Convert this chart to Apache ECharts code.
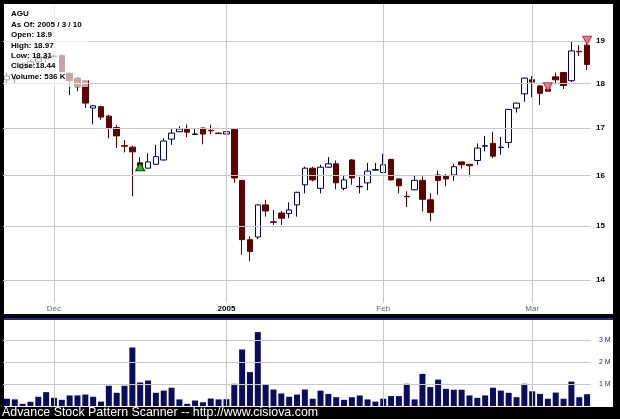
<!DOCTYPE html>
<html><head><meta charset="utf-8">
<script src="https://cdn.jsdelivr.net/npm/echarts@6/dist/echarts.min.js"></script>
<style>html,body{margin:0;padding:0;background:#000;}#c{width:620px;height:419px;}</style>
</head><body><div id="c"></div>
<script>
const dates = [
 '2004-11-22','2004-11-23','2004-11-24','2004-11-26','2004-11-29','2004-11-30',
 '2004-12-01','2004-12-02','2004-12-03','2004-12-06','2004-12-07','2004-12-08','2004-12-09','2004-12-10',
 '2004-12-13','2004-12-14','2004-12-15','2004-12-16','2004-12-17','2004-12-20','2004-12-21','2004-12-22',
 '2004-12-23','2004-12-27','2004-12-28','2004-12-29','2004-12-30','2004-12-31',
 '2005-01-03','2005-01-04','2005-01-05','2005-01-06','2005-01-07','2005-01-10','2005-01-11','2005-01-12',
 '2005-01-13','2005-01-14','2005-01-18','2005-01-19','2005-01-20','2005-01-21','2005-01-24','2005-01-25',
 '2005-01-26','2005-01-27','2005-01-28','2005-01-31',
 '2005-02-01','2005-02-02','2005-02-03','2005-02-04','2005-02-07','2005-02-08','2005-02-09','2005-02-10',
 '2005-02-11','2005-02-14','2005-02-15','2005-02-16','2005-02-17','2005-02-18','2005-02-22','2005-02-23',
 '2005-02-24','2005-02-25','2005-02-28',
 '2005-03-01','2005-03-02','2005-03-03','2005-03-04','2005-03-07','2005-03-08','2005-03-09','2005-03-10'
];
const opens = [18.08,18.10,18.35,18.40,18.50,18.58,18.64,18.65,18.23,18.12,
 18.06,17.44,17.47,17.26,17.01,16.62,16.59,16.26,16.15,16.23,
 16.32,16.76,16.92,16.97,16.86,17.00,16.95,16.89,16.87,16.97,
 15.90,14.74,14.79,15.41,15.08,15.25,15.24,15.41,15.81,16.15,
 15.74,16.17,16.24,15.74,16.32,15.77,15.85,16.11,16.06,16.33,
 15.93,15.58,15.71,15.90,15.51,16.01,15.98,16.01,16.28,16.23,
 16.31,16.61,16.67,16.58,16.69,17.44,17.76,18.08,17.94,17.87,
 18.15,18.25,18.06,18.75,18.90];
const closes = [18.17,18.12,18.45,18.50,18.58,18.64,18.63,18.27,18.06,17.92,
 17.55,17.49,17.24,17.00,16.83,16.61,16.49,16.20,16.28,16.39,
 16.72,16.89,16.98,16.91,16.87,16.87,16.94,16.88,16.92,15.95,
 14.74,14.52,15.41,15.29,15.07,15.15,15.31,15.66,16.15,15.91,
 16.17,16.24,15.85,15.91,15.95,15.78,16.09,16.12,16.22,15.91,
 15.79,15.57,15.90,15.52,15.26,15.90,15.93,16.18,16.22,16.20,
 16.57,16.62,16.40,16.59,17.41,17.55,18.12,18.03,17.77,17.82,
 18.08,17.95,18.76,18.74,18.44];
const lows = [17.98,17.98,18.32,18.35,18.45,18.50,18.60,18.26,17.73,17.82,
 17.44,17.08,17.18,16.78,16.57,16.48,15.58,16.12,16.15,16.22,
 16.31,16.64,16.92,16.80,16.85,16.65,16.87,16.87,16.74,15.85,
 14.46,14.34,14.75,15.18,15.02,15.02,15.15,15.18,15.64,15.88,
 15.64,16.16,15.72,15.70,15.81,15.64,15.70,16.10,16.05,15.90,
 15.64,15.37,15.70,15.28,15.09,15.61,15.78,15.89,16.14,15.98,
 16.22,16.50,16.36,16.43,16.57,17.34,17.58,17.68,17.51,17.80,
 17.98,17.87,18.03,18.64,18.31];
const highs = [18.25,18.17,18.50,18.55,18.62,18.68,18.67,18.68,18.25,18.15,
 18.07,17.51,17.49,17.29,17.07,16.74,16.62,16.38,16.46,16.64,
 16.78,16.98,17.04,17.08,16.98,17.01,17.07,16.90,16.94,17.00,
 15.91,14.80,15.42,15.51,15.31,15.29,15.46,15.67,16.18,16.18,
 16.22,16.38,16.31,15.99,16.34,15.97,16.26,16.26,16.45,16.35,
 15.94,15.68,15.99,15.98,15.64,16.10,16.03,16.24,16.29,16.24,
 16.67,16.83,16.92,16.81,17.42,17.56,18.13,18.17,17.96,17.94,
 18.25,18.26,18.99,18.90,18.97];
const volumesM = [0.33,0.30,0.10,0.19,0.42,0.63,0.37,0.28,0.48,0.48,
 0.52,0.42,0.20,0.92,0.60,0.92,2.66,1.07,1.16,0.60,
 0.70,0.83,0.30,0.10,0.25,0.17,0.34,0.30,0.31,1.01,
 2.57,1.54,3.36,0.98,0.75,0.57,0.42,0.52,0.75,0.33,
 0.70,0.55,0.40,0.28,0.40,0.48,0.30,0.20,0.33,0.45,
 0.45,1.01,0.30,1.46,0.86,1.20,0.78,0.74,0.74,0.48,
 0.37,0.48,0.83,0.70,0.60,0.40,1.01,0.67,0.55,0.33,
 0.61,0.33,1.11,0.40,0.536];
const priceTicks = [14,15,16,17,18,19];
const volumeTicks = [1,2,3];
const monthDates = ['2004-12-01','2005-01-03','2005-02-01','2005-03-01'];
const monthNames = ['Dec','2005','Feb','Mar'];
const signalDates = ['2004-12-16','2005-03-03','2005-03-10'];
const signalPrices = [16.18,17.92,19.02];
const signalDirs = ['up','down','down'];
const ticker = 'AGU';

const chart = echarts.init(document.getElementById('c'), null, {renderer:'canvas'});
const n = dates.length - 1;
const candleData = dates.map((d,i)=>[opens[i],closes[i],lows[i],highs[i]]);
const last = dates[n].split('-');
const infoLines = [
  ticker,
  'As Of: ' + (+last[0]) + ' / ' + (+last[1]) + ' / ' + (+last[2]),
  'Open: ' + opens[n],
  'High: ' + highs[n],
  'Low: ' + lows[n],
  'Close:' + closes[n],
  'Volume: ' + Math.round(volumesM[n]*1000) + ' K'
];
const grid = {color:'#c8c8c8', width:1, type:'solid'};
const vLines = monthDates.map(d=>({xAxis:d, label:{show:false}}));
const infoText = infoLines.map((t,k)=>({
  type:'text', x:11, y:14+10.45*k, z:101,
  style:{text:t, fill:'#000', font:'bold 8px "Liberation Sans", Arial, sans-serif', verticalAlign:'middle'}
}));
const option = {
  backgroundColor:'#000',
  animation:false,
  graphic:[
    {type:'rect', z:-10, shape:{x:4,y:4,width:609,height:310}, style:{fill:'#fff'}},
    {type:'rect', z:-10, shape:{x:4,y:318,width:609,height:2}, style:{fill:'#24248a'}},
    {type:'rect', z:-10, shape:{x:4,y:320,width:609,height:87}, style:{fill:'#fff'}},
    {type:'rect', z:100, shape:{x:4,y:4,width:84,height:83}, style:{fill:'rgba(255,255,255,0.65)'}},
    ...infoText,
    {type:'text', x:2, y:413, z:101, style:{text:'Advance Stock Pattern Scanner -- http://www.cisiova.com', fill:'#fff', font:'12.4px "Liberation Sans", Arial, sans-serif', verticalAlign:'middle'}}
  ],
  grid:[
    {left:3, right:29, top:4, height:299},
    {left:3, right:29, top:320, height:86}
  ],
  xAxis:[
    {type:'category', gridIndex:0, data:dates, boundaryGap:true,
     axisLine:{show:false}, axisTick:{show:false}, splitLine:{show:false},
     axisLabel:{margin:2, fontSize:8, color:'#666', fontFamily:'"Liberation Sans", Arial, sans-serif',
       interval:(i,v)=>monthDates.indexOf(v)>=0,
       formatter:(v)=>{const k=monthDates.indexOf(v); if(k<0) return ''; return monthNames[k]==='2005' ? '{y|2005}' : monthNames[k];},
       rich:{y:{fontSize:8, fontWeight:'bold', color:'#000', fontFamily:'"Liberation Sans", Arial, sans-serif'}}}},
    {type:'category', gridIndex:1, data:dates, boundaryGap:true,
     axisLine:{show:false}, axisTick:{show:false}, axisLabel:{show:false}, splitLine:{show:false}}
  ],
  yAxis:[
    {type:'log', logBase:10, gridIndex:0, min:13.594, max:19.92, position:'right',
     axisLine:{show:false}, axisTick:{show:false}, axisLabel:{show:false}, splitLine:{show:false}},
    {type:'value', gridIndex:1, min:0, max:3.909, position:'right',
     axisLine:{show:false}, axisTick:{show:false}, axisLabel:{show:false}, splitLine:{show:false}}
  ],
  series:[
    {type:'line', xAxisIndex:0, yAxisIndex:0, data:[], z:1, silent:true,
     markLine:{silent:true, symbol:['none','none'], lineStyle:grid, animation:false,
       data:[
         ...priceTicks.map(v=>({yAxis:v, label:{show:true, position:'end', distance:5, formatter:String(v), color:'#000', fontSize:8, fontWeight:'bold', fontFamily:'"Liberation Sans", Arial, sans-serif'}})),
         ...vLines
       ]}},
    {type:'candlestick', xAxisIndex:0, yAxisIndex:0, data:candleData, z:3, barWidth:6,
     itemStyle:{color:'#ffffff', color0:'#5c0000', borderColor:'#00004e', borderColor0:'#5c0000', borderWidth:1},
     markPoint:{animation:false, label:{show:false},
       data:signalDates.map((d,k)=>({coord:[d, signalPrices[k]], symbol:'triangle', symbolSize:[9,8],
         symbolRotate: signalDirs[k]==='up'?0:180,
         itemStyle: signalDirs[k]==='up' ? {color:'#2fb52f', borderColor:'#0a3a0a', borderWidth:1} : {color:'#f27a88', borderColor:'#b03a48', borderWidth:1}}))}},
    {type:'line', xAxisIndex:1, yAxisIndex:1, data:[], z:1, silent:true,
     markLine:{silent:true, symbol:['none','none'], lineStyle:grid, animation:false,
       data:[
         ...volumeTicks.map(v=>({yAxis:v, label:{show:true, position:'end', distance:8, formatter:v+' M', color:'#2a2a8a', fontSize:7, fontFamily:'"Liberation Sans", Arial, sans-serif'}})),
         ...vLines
       ]}},
    {type:'bar', xAxisIndex:1, yAxisIndex:1, data:volumesM, barWidth:6, z:3,
     itemStyle:{color:'#0c0c5c'}}
  ]
};
chart.setOption(option);
</script></body></html>
